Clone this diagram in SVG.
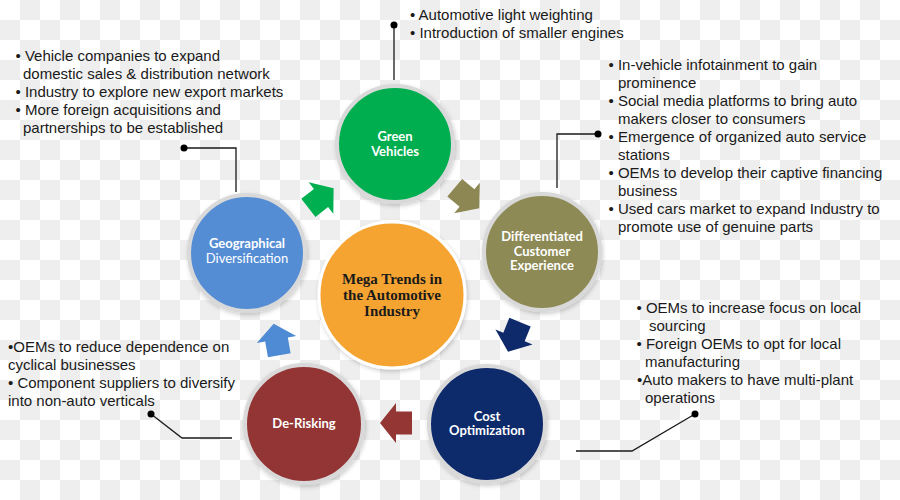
<svg xmlns="http://www.w3.org/2000/svg" xmlns:xlink="http://www.w3.org/1999/xlink" width="900" height="500" viewBox="0 0 900 500">
<style>
.lbl{font-family:Lato,"Liberation Sans",sans-serif;font-weight:700;font-size:13px;fill:#ffffff;text-anchor:middle}
.lbln{font-weight:400}
.ctr{font-family:"Liberation Serif","Times New Roman",serif;font-weight:700;font-size:15px;fill:#1a1a1a;text-anchor:middle}
.txt{font-family:"Liberation Sans",Arial,sans-serif;font-size:15px;fill:#1a1a1a}
.ring{stroke:#d9d9d9;stroke-width:4}
.conn{fill:none;stroke:#1a1a1a;stroke-width:1.3}
.dot{fill:#000000}
</style>
<defs>
<pattern id="chk" width="40" height="40" patternUnits="userSpaceOnUse">
<rect width="40" height="40" fill="#ffffff"/>
<rect x="20" y="0" width="20" height="20" fill="#eeeeee"/>
<rect x="0" y="20" width="20" height="20" fill="#eeeeee"/>
</pattern>
<filter id="sh" x="-20%" y="-20%" width="140%" height="140%">
<feDropShadow dx="1" dy="2" stdDeviation="2" flood-color="#000000" flood-opacity="0.2"/>
</filter>
<polygon id="arr" points="-16,-11.5 0,-11.5 0,-20 16,0 0,20 0,11.5 -16,11.5"/>
</defs>
<rect width="900" height="500" fill="url(#chk)"/>

<g id="connectors">
<line class="conn" x1="394" y1="25" x2="394" y2="80"/>
<circle class="dot" cx="394" cy="25" r="3.5"/>
<path class="conn" d="M598,134 H557 V188"/>
<circle class="dot" cx="598" cy="134" r="3.5"/>
<path class="conn" d="M184,148 H236 V192"/>
<circle class="dot" cx="184" cy="148" r="3.5"/>
<path class="conn" d="M151,414 L182,438 H232"/>
<circle class="dot" cx="151" cy="414" r="3.5"/>
<path class="conn" d="M695,414 L632,451 H576"/>
<circle class="dot" cx="695" cy="414" r="3.5"/>
</g>

<g id="arrows">
<use xlink:href="#arr" href="#arr" fill="#00b050" transform="translate(321,198) rotate(-38)"/>
<use xlink:href="#arr" href="#arr" fill="#8c8753" transform="translate(467,198) rotate(40)"/>
<use xlink:href="#arr" href="#arr" fill="#0f2a6b" transform="translate(514,337) rotate(112)"/>
<use xlink:href="#arr" href="#arr" fill="#943634" transform="translate(396,423) rotate(180)"/>
<use xlink:href="#arr" href="#arr" fill="#4f8ad4" transform="translate(276.5,339.5) rotate(-100)"/>
</g>

<g id="node-center">
<circle cx="392" cy="295" r="73" fill="#f5a431" stroke="#ffffff" stroke-width="3" filter="url(#sh)"/>
<text class="ctr" x="392" y="284">Mega Trends in</text>
<text class="ctr" x="392" y="300">the Automotive</text>
<text class="ctr" x="392" y="316">Industry</text>
</g>

<g id="node-green">
<circle class="ring" cx="395" cy="144" r="58" fill="#00ae4f" filter="url(#sh)"/>
<text class="lbl" x="395" y="140.5">Green</text>
<text class="lbl" x="395" y="155.5">Vehicles</text>
</g>

<g id="node-differentiated">
<circle class="ring" cx="542" cy="252" r="58" fill="#8e8a56" filter="url(#sh)"/>
<text class="lbl" x="542" y="240.5">Differentiated</text>
<text class="lbl" x="542" y="255.5">Customer</text>
<text class="lbl" x="542" y="270">Experience</text>
</g>

<g id="node-cost">
<circle class="ring" cx="487" cy="424" r="58" fill="#0f2a6b" filter="url(#sh)"/>
<text class="lbl" x="487" y="420.5">Cost</text>
<text class="lbl" x="487" y="435">Optimization</text>
</g>

<g id="node-derisking">
<circle class="ring" cx="304" cy="424" r="59" fill="#943634" filter="url(#sh)"/>
<text class="lbl" x="304" y="427.5">De-Risking</text>
</g>

<g id="node-geographical">
<circle class="ring" cx="247" cy="253" r="58" fill="#548dd4" filter="url(#sh)"/>
<text class="lbl" x="247" y="247.5">Geographical</text>
<text class="lbl lbln" x="247" y="262.5">Diversification</text>
</g>

<g id="text-green">
<text class="txt" x="410" y="20">• Automotive light weighting</text>
<text class="txt" x="410" y="38">• Introduction of smaller engines</text>
</g>

<g id="text-differentiated">
<text class="txt" x="608.5" y="70">• In-vehicle infotainment to gain</text>
<text class="txt" x="618" y="88">prominence</text>
<text class="txt" x="608.5" y="106">• Social media platforms to bring auto</text>
<text class="txt" x="618" y="124">makers closer to consumers</text>
<text class="txt" x="608.5" y="142">• Emergence of organized auto service</text>
<text class="txt" x="618" y="160">stations</text>
<text class="txt" x="608.5" y="178">• OEMs to develop their captive financing</text>
<text class="txt" x="618" y="196">business</text>
<text class="txt" x="608.5" y="214">• Used cars market to expand Industry to</text>
<text class="txt" x="618" y="232">promote use of genuine parts</text>
</g>

<g id="text-geographical">
<text class="txt" x="15.5" y="61">• Vehicle companies to expand</text>
<text class="txt" x="23" y="79">domestic sales &amp; distribution network</text>
<text class="txt" x="15.5" y="97">• Industry to explore new export markets</text>
<text class="txt" x="15.5" y="115">• More foreign acquisitions and</text>
<text class="txt" x="23" y="133">partnerships to be established</text>
</g>

<g id="text-derisking">
<text class="txt" x="8" y="352">•OEMs to reduce dependence on</text>
<text class="txt" x="8" y="370">cyclical businesses</text>
<text class="txt" x="8" y="388">• Component suppliers to diversify</text>
<text class="txt" x="8" y="406">into non-auto verticals</text>
</g>

<g id="text-cost">
<text class="txt" x="636.5" y="313">• OEMs to increase focus on local</text>
<text class="txt" x="649" y="331">sourcing</text>
<text class="txt" x="636.5" y="349">• Foreign OEMs to opt for local</text>
<text class="txt" x="645" y="367">manufacturing</text>
<text class="txt" x="637" y="385">•Auto makers to have multi-plant</text>
<text class="txt" x="645" y="403">operations</text>
</g>
</svg>
